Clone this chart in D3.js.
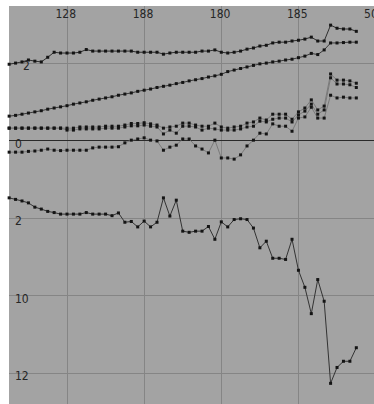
<!DOCTYPE html>
<html><head><meta charset="utf-8">
<script src="https://cdn.jsdelivr.net/npm/d3@7"></script>
<style>body{margin:0;background:#fff}svg{display:block}</style>
</head><body>
<svg id="c" width="374" height="404"></svg>
<script>
// month index of each observation
const months = [0,1,2,3,4,5,6,7,8,9,10,11,12,13,14,15,16,17,18,19,20,21,22,23,24,25,26,27,28,29,30,31,32,33,34,35,36,37,38,39,40,41,42,43,44,45,46,47,48,49,50,51,52,53,54];
const xTickMonths = [9,21,33,45,57];
const xTickLabels = ["128","188","180","185","50"];
const yTickValues = [2,0,-2,-4,-6];
const yTickLabels = ["2","0","2","10","12"];

const seriesTop = [1.96,1.99,2.02,2.07,2.04,2.02,2.14,2.27,2.25,2.25,2.25,2.27,2.34,2.30,2.30,2.30,2.30,2.30,2.30,2.30,2.27,2.27,2.27,2.27,2.22,2.25,2.27,2.27,2.27,2.27,2.30,2.30,2.33,2.27,2.25,2.27,2.30,2.35,2.38,2.43,2.45,2.51,2.53,2.53,2.56,2.58,2.61,2.66,2.56,2.56,2.97,2.89,2.87,2.87,2.81];
const seriesRise = [0.62,0.64,0.67,0.70,0.73,0.76,0.80,0.83,0.86,0.89,0.93,0.96,0.99,1.03,1.06,1.09,1.12,1.16,1.19,1.22,1.26,1.29,1.32,1.36,1.39,1.42,1.46,1.49,1.53,1.56,1.59,1.63,1.66,1.70,1.77,1.81,1.85,1.89,1.93,1.97,1.99,2.02,2.04,2.07,2.09,2.13,2.17,2.24,2.21,2.33,2.51,2.51,2.52,2.53,2.53];
const seriesMidA = [0.31,0.31,0.31,0.31,0.31,0.31,0.31,0.31,0.31,0.31,0.31,0.34,0.34,0.34,0.34,0.36,0.36,0.36,0.39,0.43,0.43,0.45,0.42,0.39,0.31,0.34,0.36,0.44,0.44,0.39,0.36,0.36,0.44,0.34,0.31,0.34,0.36,0.44,0.47,0.57,0.52,0.67,0.67,0.67,0.54,0.73,0.83,1.04,0.78,0.88,1.71,1.55,1.55,1.53,1.47];
const seriesMidB = [0.31,0.31,0.31,0.31,0.31,0.31,0.31,0.31,0.31,0.26,0.26,0.29,0.29,0.29,0.29,0.31,0.31,0.31,0.34,0.37,0.37,0.39,0.36,0.34,0.16,0.26,0.18,0.36,0.36,0.34,0.26,0.31,0.29,0.26,0.26,0.26,0.29,0.34,0.36,0.49,0.47,0.54,0.57,0.57,0.47,0.65,0.75,0.93,0.67,0.78,1.61,1.45,1.45,1.43,1.36];
const seriesMidC = [-0.31,-0.31,-0.31,-0.29,-0.28,-0.26,-0.23,-0.26,-0.27,-0.26,-0.26,-0.26,-0.26,-0.20,-0.18,-0.18,-0.18,-0.17,-0.07,0.00,0.03,0.06,0.00,-0.02,-0.26,-0.18,-0.13,0.03,0.03,-0.15,-0.23,-0.33,0.00,-0.46,-0.46,-0.49,-0.38,-0.15,0.00,0.18,0.16,0.42,0.36,0.36,0.23,0.57,0.60,0.85,0.57,0.57,1.16,1.09,1.11,1.09,1.09];
const seriesLow = [-1.49,-1.53,-1.57,-1.62,-1.73,-1.78,-1.84,-1.87,-1.91,-1.91,-1.91,-1.91,-1.87,-1.91,-1.91,-1.91,-1.95,-1.88,-2.12,-2.10,-2.24,-2.09,-2.24,-2.12,-1.49,-1.96,-1.55,-2.35,-2.38,-2.35,-2.35,-2.23,-2.56,-2.11,-2.24,-2.05,-2.03,-2.05,-2.27,-2.78,-2.61,-3.05,-3.05,-3.08,-2.56,-3.36,-3.80,-4.48,-3.60,-4.16,-6.28,-5.87,-5.71,-5.71,-5.36];

const plot = {left: 9, top: 6, right: 374, bottom: 404};
const x = d3.scaleLinear().domain([9, 57]).range([67, 375.6]);
const y = d3.scaleLinear().domain([2, -6]).range([62.7, 372.5]);

const svg = d3.select("#c");
svg.append("rect").attr("x", plot.left).attr("y", plot.top)
  .attr("width", plot.right - plot.left).attr("height", plot.bottom - plot.top)
  .attr("fill", "#a3a3a3");

const font = "'Liberation Sans Narrow','DejaVu Sans Condensed',sans-serif";

const xAxis = svg.append("g").attr("transform", `translate(0,${plot.top})`)
  .call(d3.axisTop(x).tickValues(xTickMonths).tickSize(-(plot.bottom - plot.top))
    .tickFormat((d, i) => xTickLabels[i]));
xAxis.select(".domain").remove();
xAxis.selectAll(".tick line").attr("stroke", "#858585").attr("stroke-width", 1).attr("shape-rendering","crispEdges");
xAxis.selectAll(".tick text").attr("y", 12).attr("dy", 0).attr("x", -12)
  .attr("text-anchor", "start").attr("fill", "#262626")
  .style("font-family", font).style("font-size", "12px");

const yAxis = svg.append("g").attr("transform", `translate(${plot.left},0)`)
  .call(d3.axisRight(y).tickValues(yTickValues).tickSize(plot.right - plot.left)
    .tickFormat((d, i) => yTickLabels[i]));
yAxis.select(".domain").remove();
yAxis.selectAll(".tick line")
  .attr("stroke", d => d === 0 ? "#2a2a2a" : "#858585")
  .attr("stroke-width", d => d === 0 ? 1.6 : 1)
  .attr("shape-rendering","crispEdges");
yAxis.selectAll(".tick text").attr("x", (d, i) => i === 0 ? 14 : 6).attr("dy", 0).attr("y", 7)
  .attr("text-anchor", "start").attr("fill", "#262626")
  .style("font-family", font).style("font-size", "12px");

const all = [
  {vals: seriesTop, line: "#2e2e2e"},
  {vals: seriesRise, line: "#3a3a3a"},
  {vals: seriesMidB, line: "#7a7a7a"},
  {vals: seriesMidA, line: "#7a7a7a"},
  {vals: seriesMidC, line: "#7a7a7a"},
  {vals: seriesLow, line: "#333333"}
];
const line = d3.line().x((d, i) => x(months[i])).y(d => y(d));
all.forEach(s => {
  svg.append("path").attr("d", line(s.vals)).attr("fill", "none")
    .attr("stroke", s.line).attr("stroke-width", 1);
});
all.forEach(s => {
  svg.append("g").selectAll("rect").data(s.vals).join("rect")
    .attr("x", (d, i) => x(months[i]) - 1.5).attr("y", d => y(d) - 1.5)
    .attr("width", 3).attr("height", 3).attr("fill", "#141414");
});
</script>
</body></html>
